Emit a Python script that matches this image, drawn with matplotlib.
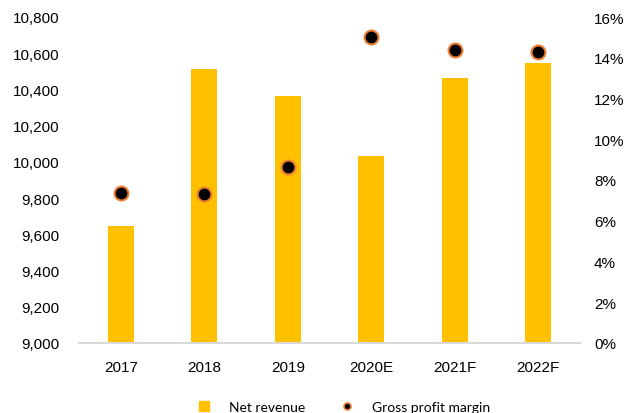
import matplotlib
matplotlib.use("Agg")
import matplotlib.pyplot as plt
from matplotlib.ticker import FuncFormatter, MultipleLocator
from matplotlib.lines import Line2D
import numpy as np

years = ["2017", "2018", "2019", "2020E", "2021F", "2022F"]
net_revenue = [9648, 10512, 10362, 10035, 10462, 10545]
gross_margin = [7.35, 7.3, 8.65, 15.0, 14.38, 14.28]

BAR_COLOR = "#FFC000"
EDGE_ORANGE = "#ED7D31"

plt.rcParams["font.family"] = ["Liberation Sans", "DejaVu Sans"]

fig = plt.figure(figsize=(6.31, 4.14), dpi=100)
ax = fig.add_axes([79 / 631, 70 / 414, 501 / 631, 326 / 414])

x = np.arange(len(years))
ax.bar(x, net_revenue, width=0.31, color=BAR_COLOR, zorder=2)
ax.set_ylim(9000, 10800)
ax.set_xlim(-0.5, len(years) - 0.5)
ax.yaxis.set_major_locator(MultipleLocator(200))
ax.yaxis.set_major_formatter(FuncFormatter(lambda v, p: f"{v:,.0f}"))
ax.set_xticks(x)
ax.set_xticklabels(years)

for side in ("left", "right", "top"):
    ax.spines[side].set_visible(False)
ax.spines["bottom"].set_color("#d9d9d9")
ax.spines["bottom"].set_linewidth(1.5)
ax.tick_params(axis="both", length=0, labelsize=11, colors="#000000")
ax.tick_params(axis="x", pad=12)
ax.tick_params(axis="y", pad=14)

ax2 = ax.twinx()
ax2.plot(x, gross_margin, linestyle="none", marker="o", markersize=10,
         markerfacecolor="black", markeredgecolor=EDGE_ORANGE,
         markeredgewidth=1.5, zorder=3)
ax2.set_ylim(0, 16)
ax2.yaxis.set_major_locator(MultipleLocator(2))
ax2.yaxis.set_major_formatter(FuncFormatter(lambda v, p: f"{v:.0f}%"))
for side in ("left", "right", "top", "bottom"):
    ax2.spines[side].set_visible(False)
ax2.tick_params(axis="y", length=0, labelsize=11, pad=10)

handles = [
    Line2D([], [], linestyle="none", marker="s", markersize=7,
           markerfacecolor=BAR_COLOR, markeredgecolor=BAR_COLOR),
    Line2D([], [], linestyle="none", marker="o", markersize=5,
           markerfacecolor="black", markeredgecolor=EDGE_ORANGE,
           markeredgewidth=1.2),
]
fig.legend(handles, ["Net revenue", "Gross profit margin"], ncol=2,
           loc="center", bbox_to_anchor=(340 / 631, 6 / 414), frameon=False,
           handlelength=2.0, handletextpad=0.8, columnspacing=2.0,
           prop={"family": ["Lato", "DejaVu Sans"], "size": 10})

fig.savefig("out.png", dpi=100)
